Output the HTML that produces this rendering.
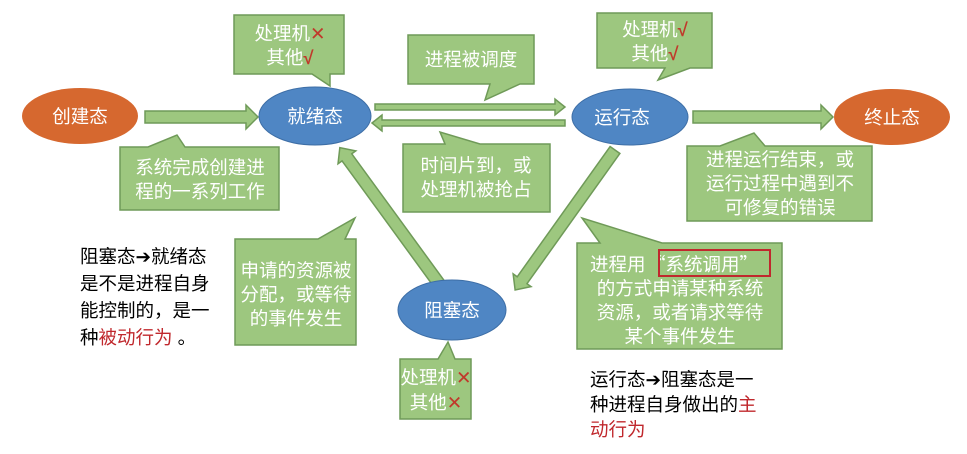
<!DOCTYPE html>
<html><head><meta charset="utf-8"><style>
body{margin:0;background:#fff;}
svg text{font-family:"Liberation Sans","Noto Sans CJK SC",sans-serif;}
</style></head><body>
<svg width="967" height="449" viewBox="0 0 967 449" xmlns="http://www.w3.org/2000/svg">
<defs>
<style>
.g{fill:#9dc77f;stroke:#6f9a58;stroke-width:1.5}
.w{fill:#fff;font-size:18.5px}
.b{fill:#000;font-size:18.5px}
.r{fill:#c0392b}
.q{font-family:"Noto Sans CJK SC",sans-serif}
</style>
</defs>
<!-- arrows -->
<polygon class="g" points="145,111 246,111 246,105 258,117 246,129 246,123 145,123"/>
<polygon class="g" points="375,104 555,104 555,99 565,107 555,115 555,110 375,110"/>
<polygon class="g" points="565,120 382,120 382,115 372,123 382,131 382,126 565,126"/>
<polygon class="g" points="693,111 821,111 821,105 833,117 821,129 821,123 693,123"/>
<g transform="translate(440,285) rotate(-126.1)"><polygon class="g" points="0,-6 158,-6 158,-11 170,0 158,11 158,6 0,6"/></g>
<g transform="translate(615,150) rotate(125.5)"><polygon class="g" points="0,-6 160,-6 160,-11 172,0 160,11 160,6 0,6"/></g>
<!-- ellipses -->
<ellipse cx="80" cy="116" rx="58" ry="28" fill="#d6682f"/>
<ellipse cx="315" cy="116" rx="56" ry="29" fill="#4f86c4" stroke="#3d6ea6"/>
<ellipse cx="630" cy="117" rx="58" ry="28" fill="#4f86c4" stroke="#3d6ea6"/>
<ellipse cx="892" cy="117" rx="58" ry="28" fill="#d6682f"/>
<ellipse cx="452" cy="310" rx="54" ry="30" fill="#4f86c4" stroke="#3d6ea6"/>
<text class="w" x="80" y="123" text-anchor="middle">创建态</text>
<text class="w" x="315" y="123" text-anchor="middle">就绪态</text>
<text class="w" x="622" y="124" text-anchor="middle">运行态</text>
<text class="w" x="892" y="124" text-anchor="middle">终止态</text>
<text class="w" x="452" y="317" text-anchor="middle">阻塞态</text>
<!-- callouts -->
<polygon class="g" points="234,15 344,15 344,74 330,74 330,86 312,74 234,74"/>
<text class="w" x="290" y="40" text-anchor="middle">处理机<tspan class="r">✕</tspan></text>
<text class="w" x="290" y="64" text-anchor="middle">其他<tspan class="r" font-weight="bold">√</tspan></text>

<polygon class="g" points="408,35 534,35 534,84 520,84 485,100 490,84 408,84"/>
<text class="w" x="471" y="66" text-anchor="middle">进程被调度</text>

<polygon class="g" points="597,13 712,13 712,68 690,68 658,80 665,68 597,68"/>
<text class="w" x="655" y="36" text-anchor="middle">处理机<tspan class="r" font-weight="bold">√</tspan></text>
<text class="w" x="655" y="60" text-anchor="middle">其他<tspan class="r" font-weight="bold">√</tspan></text>

<polygon class="g" points="120,147 148,147 177,135 185,147 279,147 279,210 120,210"/>
<text class="w" x="200" y="174" text-anchor="middle">系统完成创建进</text>
<text class="w" x="200" y="198" text-anchor="middle">程的一系列工作</text>

<polygon class="g" points="403,144 445,144 440,132 480,144 550,144 550,212 403,212"/>
<text class="w" x="476" y="172" text-anchor="middle">时间片到，或</text>
<text class="w" x="476" y="196" text-anchor="middle">处理机被抢占</text>

<polygon class="g" points="687,146 720,146 754,133 765,146 872,146 872,221 687,221"/>
<text class="w" x="780" y="166" text-anchor="middle">进程运行结束，或</text>
<text class="w" x="780" y="190" text-anchor="middle">运行过程中遇到不</text>
<text class="w" x="780" y="214" text-anchor="middle">可修复的错误</text>

<polygon class="g" points="235,239 318,239 355,218 345,239 356,239 356,345 235,345"/>
<text class="w" x="296" y="277" text-anchor="middle">申请的资源被</text>
<text class="w" x="296" y="301" text-anchor="middle">分配，或等待</text>
<text class="w" x="296" y="325" text-anchor="middle">的事件发生</text>

<polygon class="g" points="577,243 600,243 582,218 662,243 782,243 782,349 577,349"/>
<text class="w" x="590" y="271">进程用</text>
<text class="w" x="647" y="271"><tspan class="q">“</tspan>系统调用<tspan class="q">”</tspan></text>
<rect x="659" y="250" width="111" height="26" fill="none" stroke="#c0282d" stroke-width="2"/>
<text class="w" x="680" y="295" text-anchor="middle">的方式申请某种系统</text>
<text class="w" x="680" y="319" text-anchor="middle">资源，或者请求等待</text>
<text class="w" x="680" y="343" text-anchor="middle">某个事件发生</text>

<polygon class="g" points="400,359 438,359 448,342 455,359 471,359 471,419 400,419"/>
<text class="w" x="436" y="384" text-anchor="middle">处理机<tspan class="r">✕</tspan></text>
<text class="w" x="436" y="409" text-anchor="middle">其他<tspan class="r">✕</tspan></text>

<!-- notes -->
<text class="b" x="80" y="263">阻塞态➔就绪态</text>
<text class="b" x="80" y="290">是不是进程自身</text>
<text class="b" x="80" y="317">能控制的，是一</text>
<text class="b" x="80" y="344">种<tspan style="fill:#c0282d">被动行为</tspan> 。</text>

<text class="b" x="590" y="386">运行态➔阻塞态是一</text>
<text class="b" x="590" y="411">种进程自身做出的<tspan style="fill:#c0282d">主</tspan></text>
<text class="b" x="590" y="436" style="fill:#c0282d">动行为</text>
</svg>
</body></html>
